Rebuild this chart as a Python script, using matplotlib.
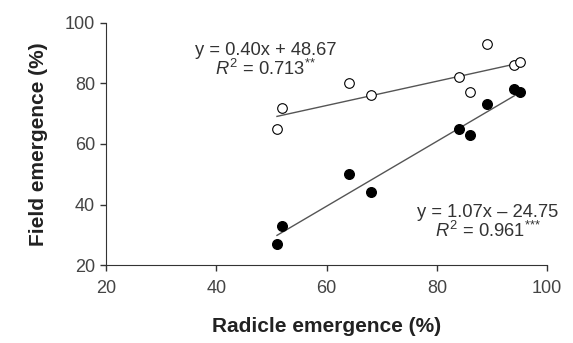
import numpy as np
import matplotlib.pyplot as plt

plt.rcParams['font.family'] = ['Liberation Sans', 'DejaVu Sans']
plt.rcParams['mathtext.fontset'] = 'custom'
plt.rcParams['mathtext.rm'] = 'Liberation Sans'
plt.rcParams['mathtext.it'] = 'Liberation Sans:italic'

# Radicle emergence (x) vs field emergence (y)
radicle = [51, 52, 64, 68, 84, 86, 89, 94, 95]
field_open = [65, 72, 80, 76, 82, 77, 93, 86, 87]
field_filled = [27, 33, 50, 44, 65, 63, 73, 78, 77]

fit_open = (0.40, 48.67)
fit_filled = (1.07, -24.75)

fig, ax = plt.subplots(figsize=(5.73, 3.43), dpi=100)
fig.subplots_adjust(left=0.185, right=0.955, top=0.934, bottom=0.227)

xs = np.array([min(radicle), max(radicle)])
ax.plot(xs, fit_open[0] * xs + fit_open[1], color='#555555', lw=1)
ax.plot(xs, fit_filled[0] * xs + fit_filled[1], color='#555555', lw=1)

ax.scatter(radicle, field_open, s=48, facecolor='white', edgecolor='black', lw=0.8, zorder=3)
ax.scatter(radicle, field_filled, s=48, facecolor='black', edgecolor='black', zorder=3)

# Annotations
ax.text(48.9, 87.6, 'y = 0.40x + 48.67\n$R^{2}$ = 0.713$^{{*}{*}}$', ha='center', va='center',
        fontsize=13.2, color='#333333', linespacing=1.0)
ax.text(89.2, 34.2, 'y = 1.07x \u2013 24.75\n$R^{2}$ = 0.961$^{{*}{*}{*}}$', ha='center', va='center',
        fontsize=13.2, color='#333333', linespacing=1.0)

ax.set_xlim(20, 100)
ax.set_ylim(20, 100)
ax.set_xticks([20, 40, 60, 80, 100])
ax.set_yticks([20, 40, 60, 80, 100])
for side in ['top', 'right']:
    ax.spines[side].set_visible(False)
for side in ['left', 'bottom']:
    ax.spines[side].set_color('#333333')
ax.tick_params(colors='#333333', labelcolor='#444444', labelsize=13, length=4, width=1)
ax.tick_params(axis='x', pad=7)
ax.tick_params(axis='y', pad=4)
ax.set_xlabel('Radicle emergence (%)', fontsize=15, fontweight='bold', color='#222222', labelpad=14)
ax.set_ylabel('Field emergence (%)', fontsize=15, fontweight='bold', color='#222222', labelpad=12)

plt.savefig('out.png')
